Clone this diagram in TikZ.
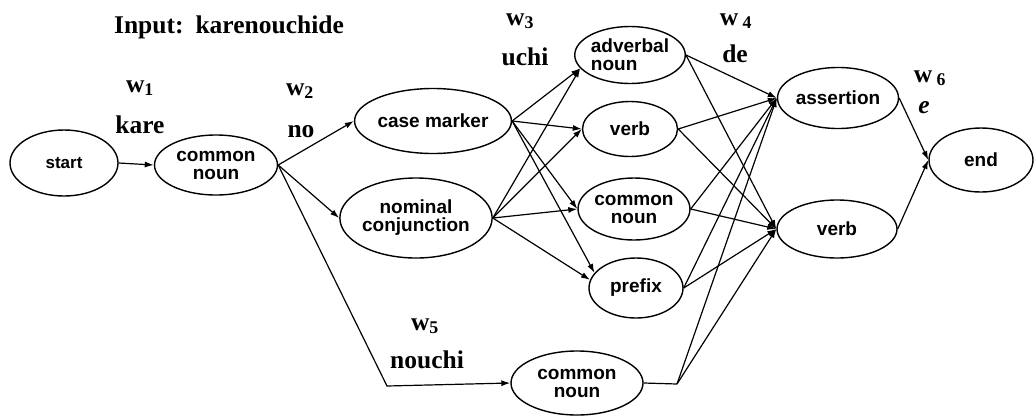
\documentclass[tikz,border=0pt]{standalone}
\usepackage{fontspec}
\setmainfont{Liberation Serif}
\setsansfont{Liberation Sans}
\usetikzlibrary{shapes.geometric,arrows.meta}
\tikzset{
  st/.style={draw, ellipse, line width=1.4pt, inner sep=0pt, align=center,
    font=\sffamily\bfseries\fontsize{19}{18}\selectfont},
  lab/.style={font=\bfseries\fontsize{25.5}{26}\selectfont, anchor=base, inner sep=0pt},
  ar/.style={line width=1.2pt, -{Latex[length=9pt,width=6pt]}},
  ln/.style={line width=1.2pt},
}
\begin{document}
\begin{tikzpicture}[x=1pt,y=-1pt]
\useasboundingbox (0,0) rectangle (1036,416);
% nodes
\node[st, minimum width=108pt, minimum height=66pt, font=\sffamily\bfseries\fontsize{17}{16}\selectfont] (start) at (64,163) {start};
\node[st, minimum width=123pt, minimum height=60pt] (cn1) at (216,165) {common\\noun};
\node[st, minimum width=155pt, minimum height=65pt] (cm) at (433,121) {case marker};
\node[st, minimum width=133pt, minimum height=80pt] (nc) at (416,218) {nominal\\conjunction};
\node[st, minimum width=106pt, minimum height=57pt, align=left] (adv) at (630,55) {adverbal\\noun};
\node[st, minimum width=95pt, minimum height=55pt] (vb3) at (630,129) {verb};
\node[st, minimum width=108pt, minimum height=62pt] (cn3) at (634,209) {common\\noun};
\node[st, minimum width=94pt, minimum height=60pt] (pre) at (636,288) {prefix};
\node[st, minimum width=121pt, minimum height=61pt] (as) at (838,98) {assertion};
\node[st, minimum width=120pt, minimum height=58pt] (vb4) at (837,229) {verb};
\node[st, minimum width=104pt, minimum height=64pt] (end) at (981,160) {end};
\node[st, minimum width=132pt, minimum height=64pt] (cn5) at (577,383) {common\\noun};
% labels
\node[lab] (inp) at (229,33) {Input:\hspace{12pt}karenouchide};
\node[lab] (w1) at (140,92) {w\textsubscript{1}};
\node[lab] (m1) at (140,133) {kare};
\node[lab] (w2) at (300,95) {w\textsubscript{2}};
\node[lab] (m2) at (301,137) {no};
\node[lab] (w3) at (520,25) {w\textsubscript{3}};
\node[lab] (m3) at (525,65) {uchi};
\node[lab] (w4) at (736,25) {w\,\textsubscript{4}};
\node[lab] (m4) at (735,62) {de};
\node[lab] (w6) at (930,82) {w\,\textsubscript{6}};
\node[lab] (m6) at (924,113) {\textit{e}};
\node[lab] (w5) at (425,330) {w\textsubscript{5}};
\node[lab] (m5) at (427,368) {nouchi};
% corner points
\coordinate (k1) at (387,386);
\coordinate (k2) at (677,384);
% edges
\draw[ar] (start.east) -- (cn1.west);
\draw[ar] (cn1.east) -- (cm.west);
\draw[ar] (cn1.east) -- (nc.west);
\draw[ar] (cn1.east) -- (k1) -- (cn5.west);
\foreach \s/\a in {cm/160, nc/170}{
  \draw[ar] (\s.east) -- (adv.195);
  \draw[ar] (\s.east) -- (vb3.west);
  \draw[ar] (\s.east) -- (cn3.west);
  \draw[ar] (\s.east) -- (pre.\a);
}
\foreach \s in {adv, vb3, cn3, pre}{
  \draw[ar] (\s.east) -- (as.west);
  \draw[ar] (\s.east) -- (vb4.west);
}
\draw[ln] (cn5.east) -- (k2);
\draw[ar] (k2) -- (as.west);
\draw[ar] (k2) -- (vb4.west);
\draw[ar] (as.east) -- (end.west);
\draw[ar] (vb4.east) -- (end.west);
\end{tikzpicture}
\end{document}
